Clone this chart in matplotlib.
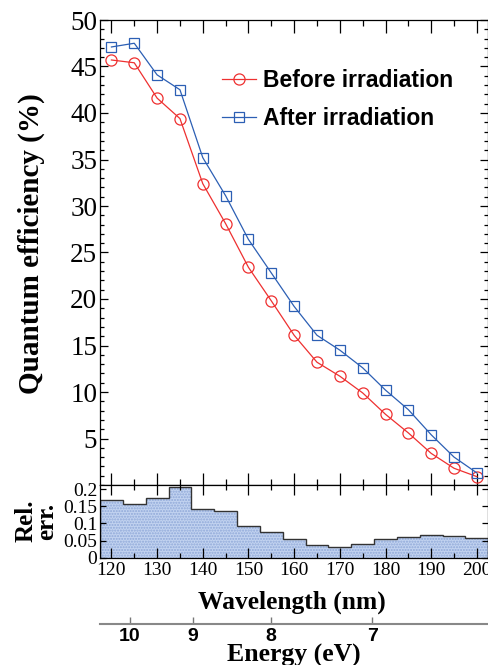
import numpy as np
import matplotlib
matplotlib.use('Agg')
import matplotlib.pyplot as plt
from matplotlib.ticker import MultipleLocator

# wavelengths (nm)
wl = np.array([120, 125, 130, 135, 140, 145, 150, 155, 160, 165,
               170, 175, 180, 185, 190, 195, 200])

# quantum efficiency (%)
qe_before = [45.7, 45.4, 41.6, 39.4, 32.4, 28.1, 23.4, 19.8, 16.1, 13.2,
             11.7, 9.9, 7.6, 5.6, 3.4, 1.8, 0.9]
qe_after = [47.1, 47.5, 44.1, 42.5, 35.2, 31.1, 26.4, 22.8, 19.2, 16.1,
            14.5, 12.6, 10.2, 8.1, 5.4, 3.0, 1.3]

# relative error
rel_err = [0.168, 0.158, 0.174, 0.206, 0.141, 0.137, 0.094, 0.075, 0.055,
           0.037, 0.031, 0.039, 0.055, 0.061, 0.066, 0.062, 0.057]

energy_ticks = [7, 8, 9, 10]
hc = 1239.84

serif = 'Liberation Serif'
sans = 'Liberation Sans'

fig = plt.figure(figsize=(4.89, 6.65), dpi=100)
W, H = 489.0, 665.0
x0, x1 = 100, 488.3
ax = fig.add_axes([x0 / W, 1 - 485 / H, (x1 - x0) / W, 465 / H])
ax2 = fig.add_axes([x0 / W, 1 - 557.7 / H, (x1 - x0) / W, 72.7 / H])

red = '#ee3030'
blue = '#2c5fb4'

ax.plot(wl, qe_before, '-o', color=red, lw=0.9, ms=8, mfc='none',
        mec=red, mew=0.9, label='Before irradiation')
ax.plot(wl, qe_after, '-s', color=blue, lw=0.9, ms=7.5, mfc='none',
        mec=blue, mew=0.9, label='After irradiation')

ax.set_xlim(117.5, 202.5)
ax.set_ylim(0, 50)
ax.set_yticks(range(5, 51, 5))
ax.yaxis.set_minor_locator(MultipleLocator(1))
ax.xaxis.set_major_locator(MultipleLocator(10))
ax.xaxis.set_minor_locator(MultipleLocator(5))
ax.tick_params(axis='both', which='both', direction='in', top=True, right=True)
ax.tick_params(axis='x', which='major', length=9, width=0.9)
ax.tick_params(axis='x', which='minor', length=4.5, width=0.9)
ax.tick_params(axis='y', which='major', length=6, width=0.9, pad=2)
ax.tick_params(axis='y', which='minor', length=3, width=0.9)
ax.tick_params(axis='x', labelbottom=False)
for lab in ax.get_yticklabels():
    lab.set_fontfamily(serif)
    lab.set_fontsize(19.5)
for s in ax.spines.values():
    s.set_linewidth(0.9)

ax.set_ylabel('Quantum efficiency (%)', fontfamily=serif, fontsize=21,
              fontweight='bold')
ax.yaxis.set_label_coords(-0.142, 0.52)

leg = ax.legend(loc='upper left', bbox_to_anchor=(0.314, 0.894), frameon=False,
                prop={'family': sans, 'weight': 'bold', 'size': 16.5},
                handlelength=1.5, handletextpad=0.3, labelspacing=0.63,
                borderpad=0, borderaxespad=0)

# relative error panel
edges = np.append(wl - 2.5, wl[-1] + 2.5)
ax2.stairs(rel_err, edges, fill=True, facecolor='#c2d3f0', edgecolor='none')
ax2.stairs(rel_err, edges, fill=True, facecolor='none', edgecolor='#8fa8d8',
           hatch='......', lw=0)
ax2.stairs(rel_err, edges, fill=False, color='#333333', lw=1)
ax2.set_xlim(117.5, 202.5)
ax2.set_ylim(0, 0.2125)
ax2.set_yticks([0, 0.05, 0.1, 0.15, 0.2])
ax2.set_yticklabels(['0', '0.05', '0.1', '0.15', '0.2'])
ax2.xaxis.set_major_locator(MultipleLocator(10))
ax2.xaxis.set_minor_locator(MultipleLocator(5))
ax2.tick_params(axis='both', which='both', direction='in', top=True, right=True)
ax2.tick_params(axis='x', which='major', length=7, width=0.9, pad=3)
ax2.tick_params(axis='x', which='minor', length=3.5, width=0.9)
ax2.tick_params(axis='y', which='major', length=4, width=0.9, pad=2)
for lab in ax2.get_yticklabels():
    lab.set_fontfamily(serif)
    lab.set_fontsize(14)
for lab in ax2.get_xticklabels():
    lab.set_fontfamily(serif)
    lab.set_fontsize(14)
for s in ax2.spines.values():
    s.set_linewidth(0.9)

ax2.set_ylabel('Rel.\nerr.', fontfamily=serif, fontsize=18, fontweight='bold',
               linespacing=0.85)
ax2.yaxis.set_label_coords(-0.108, 0.505)
ax2.set_xlabel('Wavelength (nm)', fontfamily=serif, fontsize=18.4,
               fontweight='bold')
ax2.xaxis.set_label_coords(0.495, -0.609)
ax2.xaxis.label.set_va('center')

# energy axis
sec = ax2.secondary_xaxis(-0.916, functions=(lambda x: hc / x, lambda e: hc / e))
sec.set_xticks(energy_ticks)
sec.set_xticklabels([str(e) for e in energy_ticks])
sec.tick_params(axis='x', which='major', direction='in', length=5, width=1,
                color='#777777', pad=3)
sec.tick_params(axis='x', which='minor', length=0)
sec.spines['bottom'].set_color('#888888')
sec.spines['bottom'].set_linewidth(1.5)
for lab in sec.get_xticklabels():
    lab.set_fontfamily(sans)
    lab.set_fontweight('bold')
    lab.set_fontsize(14)
sec.set_xlabel('Energy (eV)', fontfamily=serif, fontsize=18.5,
               fontweight='bold', labelpad=-1)

fig.savefig('out.png', dpi=100)
